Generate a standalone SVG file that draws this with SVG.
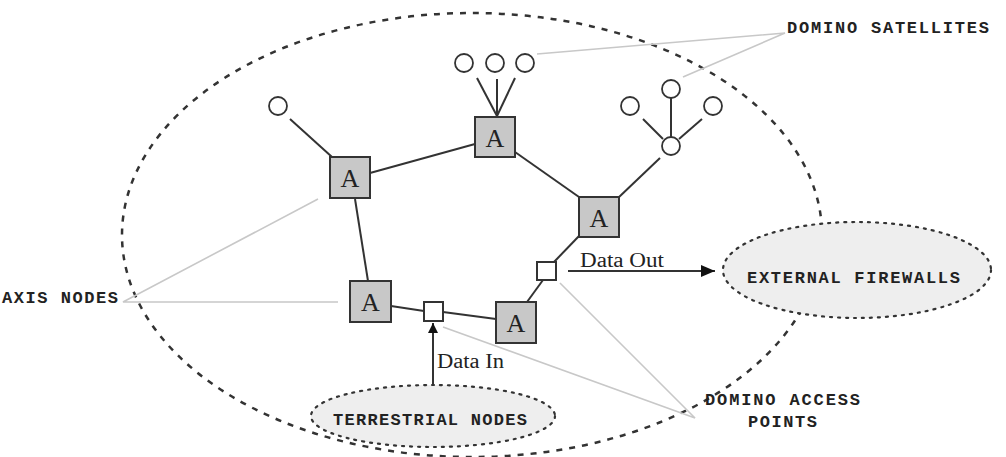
<svg xmlns="http://www.w3.org/2000/svg" width="1006" height="457" viewBox="0 0 1006 457">
<style>
.bg{fill:#ffffff}
.big{fill:none;stroke:#333;stroke-width:2.5;stroke-dasharray:6 7}
.cloud{fill:#eeeeee;stroke:#333;stroke-width:2.2;stroke-dasharray:2 6;stroke-linecap:round}
.edge{stroke:#333;stroke-width:2;fill:none}
.lead{stroke:#c8c8c8;stroke-width:1.6;fill:none}
.axis rect{fill:#c8c8c8;stroke:#333;stroke-width:2}
.axis text{font-family:"Liberation Serif",serif;font-size:26px;fill:#222;text-anchor:middle}
.ap{fill:#fff;stroke:#333;stroke-width:2}
.sat{fill:#fff;stroke:#333;stroke-width:1.8}
.lbl{font-family:"Liberation Mono",monospace;font-weight:bold;font-size:17px;fill:#222}
.dt{font-family:"Liberation Serif",serif;font-size:20px;fill:#222}
</style>
<defs>
<marker id="ah" viewBox="0 0 14 12" refX="14" refY="6" markerWidth="14" markerHeight="12" markerUnits="userSpaceOnUse" orient="auto">
<path d="M0,0 L14,6 L0,12 Z" fill="#111"/>
</marker>
<marker id="ah2" viewBox="0 0 10 10" refX="10" refY="5" markerWidth="10" markerHeight="10" markerUnits="userSpaceOnUse" orient="auto">
<path d="M0,0 L10,5 L0,10 Z" fill="#111"/>
</marker>
</defs>
<rect class="bg" x="0" y="0" width="1006" height="457"/>

<g id="boundary">
<ellipse class="big" cx="472" cy="235" rx="350" ry="222"/>
</g>

<g id="leaders">
<polyline class="lead" points="537,54 785,33 683,77"/>
<polyline class="lead" points="318,199 123,302 338,302"/>
<polyline class="lead" points="560,283 695,418 443,327"/>
</g>

<g id="connectors">
<line class="edge" x1="290" y1="119" x2="332" y2="157"/>
<line class="edge" x1="370" y1="173" x2="475" y2="144"/>
<line class="edge" x1="477" y1="78" x2="497" y2="116"/>
<line class="edge" x1="497" y1="79" x2="497" y2="116"/>
<line class="edge" x1="515" y1="78" x2="497" y2="116"/>
<line class="edge" x1="515" y1="152" x2="579" y2="197"/>
<line class="edge" x1="618" y1="198" x2="660" y2="158"/>
<line class="edge" x1="671" y1="137" x2="671" y2="98"/>
<line class="edge" x1="643" y1="119" x2="663" y2="139"/>
<line class="edge" x1="702" y1="119" x2="679" y2="139"/>
<line class="edge" x1="355" y1="199" x2="368" y2="281"/>
<line class="edge" x1="391" y1="306" x2="424" y2="311"/>
<line class="edge" x1="443" y1="312" x2="496" y2="319"/>
<line class="edge" x1="527" y1="302" x2="543" y2="280"/>
<line class="edge" x1="554" y1="262" x2="579" y2="236"/>
<line class="edge" x1="568" y1="271" x2="715" y2="271" marker-end="url(#ah)"/>
<line class="edge" x1="433" y1="385" x2="433" y2="323" marker-end="url(#ah2)"/>
</g>

<g id="external-firewalls">
<ellipse class="cloud" cx="857" cy="270" rx="134" ry="48"/>
<text class="lbl" x="747" y="283" textLength="213" lengthAdjust="spacing">EXTERNAL FIREWALLS</text>
</g>
<g id="terrestrial-nodes">
<ellipse class="cloud" cx="433" cy="416" rx="122" ry="31"/>
<text class="lbl" x="333" y="425" textLength="194" lengthAdjust="spacing">TERRESTRIAL NODES</text>
</g>

<g id="axis-1" class="axis"><rect x="330" y="157" width="40" height="41"/><text x="350" y="187">A</text></g>
<g id="axis-2" class="axis"><rect x="475" y="117" width="40" height="40"/><text x="495" y="147">A</text></g>
<g id="axis-3" class="axis"><rect x="579" y="197" width="40" height="40"/><text x="599" y="227">A</text></g>
<g id="axis-4" class="axis"><rect x="350" y="281" width="41" height="41"/><text x="370.5" y="311">A</text></g>
<g id="axis-5" class="axis"><rect x="496" y="302" width="40" height="41"/><text x="516" y="332">A</text></g>

<g id="access-point-1"><rect class="ap" x="424" y="302" width="19" height="19"/></g>
<g id="access-point-2"><rect class="ap" x="537" y="262" width="19" height="18"/></g>

<g id="satellite-1"><circle class="sat" cx="278" cy="106" r="9"/></g>
<g id="satellite-2"><circle class="sat" cx="464" cy="63" r="9"/></g>
<g id="satellite-3"><circle class="sat" cx="495" cy="63" r="9"/></g>
<g id="satellite-4"><circle class="sat" cx="525" cy="63" r="9"/></g>
<g id="satellite-5"><circle class="sat" cx="671" cy="89" r="9"/></g>
<g id="satellite-6"><circle class="sat" cx="630" cy="106" r="9"/></g>
<g id="satellite-7"><circle class="sat" cx="713" cy="106" r="9"/></g>
<g id="satellite-hub"><circle class="sat" cx="671" cy="146" r="9"/></g>

<g id="labels">
<text class="lbl" x="787" y="33" textLength="202" lengthAdjust="spacing">DOMINO SATELLITES</text>
<text class="lbl" x="2" y="303" textLength="116" lengthAdjust="spacing">AXIS NODES</text>
<text class="lbl" x="705" y="405" textLength="155" lengthAdjust="spacing">DOMINO ACCESS</text>
<text class="lbl" x="748" y="427" textLength="69" lengthAdjust="spacing">POINTS</text>
<text class="dt" x="580" y="267" textLength="84" lengthAdjust="spacingAndGlyphs">Data Out</text>
<text class="dt" x="437" y="368" textLength="67" lengthAdjust="spacingAndGlyphs">Data In</text>
</g>
</svg>
